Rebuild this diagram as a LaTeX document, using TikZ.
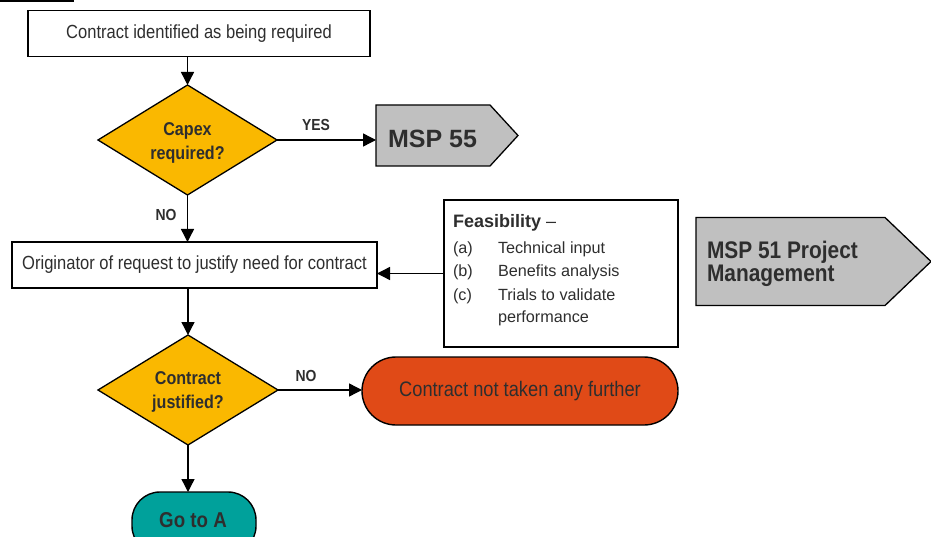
\documentclass[tikz,border=0pt]{standalone}
\usepackage{fontspec}
\setmainfont{Liberation Sans}
\newfontfamily\narrow[FakeStretch=0.87]{Liberation Sans}
\usetikzlibrary{shapes.geometric,arrows.meta}
\definecolor{txt}{HTML}{2E2E2E}
\definecolor{amber}{HTML}{FAB800}
\definecolor{redorange}{HTML}{E04A17}
\definecolor{tealc}{HTML}{00A19B}
\definecolor{greyc}{HTML}{C0C0C0}
\tikzset{
  every node/.style={text=txt, inner sep=0pt, outer sep=0pt},
  procbox/.style={draw=black, fill=white, line width=1.4pt, font=\narrow\fontsize{19}{23}\selectfont},
  decision/.style={diamond, draw=black, fill=amber, line width=1.3pt, shape aspect=1.63},
  dtext/.style={align=center, font=\narrow\bfseries\fontsize{18.5}{24}\selectfont},
  terminal/.style={draw=black, line width=1.4pt},
  conn/.style={line width=1.4pt, -{Triangle[length=13pt,width=13pt]}},
  lab/.style={font=\narrow\bfseries\fontsize{16}{18}\selectfont},
  item/.style={anchor=base west, font=\fontsize{16.2}{19}\selectfont},
}
\begin{document}
\begin{tikzpicture}[x=1pt,y=-1pt]
\clip (0,0) rectangle (931,537);
\fill[white] (0,0) rectangle (931,537);
% cropped bar at top left
\fill[black] (0,0) rectangle (74,2.5);

% first box
\node[procbox, minimum width=342pt, minimum height=46pt] (box1) at (199,33.5) {Contract identified as being required};

% decision 1
\node[decision, minimum width=179pt, minimum height=110pt] (d1) at (187.5,140) {};
\node[dtext] (d1t) at (187.5,142.5) {Capex\\required?};

% MSP 55
\filldraw[fill=greyc, draw=black, line width=1.3pt] (376,105) -- (490,105) -- (518,135.5) -- (490,166) -- (376,166) -- cycle;
\node[anchor=west, minimum height=61pt] (m55) at (376,135.5) {};
\node[anchor=base west, font=\bfseries\fontsize{25}{28}\selectfont] (m55t) at (388,148) {MSP 55};

\draw[conn] (d1.east) -- (d1.east -| m55.west);
\node[lab] (yes) at (316,125) {YES};

% second box
\node[procbox, minimum width=365pt, minimum height=46pt] (box2) at (194.5,265) {Originator of request to justify need for contract};
\draw[conn] (d1.south) -- (d1.south |- box2.north);
\draw[conn] (d1.north |- box1.south) -- (d1.north);
\node[lab] (no1) at (166,215) {NO};

% feasibility box
\node[draw=black, line width=1.3pt, minimum width=234pt, minimum height=147pt] (feas) at (561,273.5) {};
\node[anchor=base west, font=\fontsize{18}{20}\selectfont] (feast) at (453,228) {\textbf{Feasibility} –};
\node[item] (ia) at (453,253.3) {(a)};
\node[item] (ta) at (498,253.3) {Technical input};
\node[item] (ib) at (453,276.8) {(b)};
\node[item] (tb) at (498,276.8) {Benefits analysis};
\node[item] (ic) at (453,300.2) {(c)};
\node[item] (tc) at (498,300.2) {Trials to validate};
\node[item] (tc2) at (498,322.5) {performance};
\draw[conn] (feas.west) -- (feas.west -| box2.east);

% MSP 51
\filldraw[fill=greyc, draw=black, line width=1.3pt] (696,217.5) -- (885,217.5) -- (931,261.5) -- (885,305.5) -- (696,305.5) -- cycle;
\node[anchor=base west, font=\narrow\bfseries\fontsize{24}{23}\selectfont] (m51a) at (707,258.3) {MSP 51 Project};
\node[anchor=base west, font=\narrow\bfseries\fontsize{24}{23}\selectfont] (m51b) at (707,281) {Management};

% decision 2
\node[decision, minimum width=180pt, minimum height=110pt] (d2) at (188,390) {};
\node[dtext] (d2t) at (188,392) {Contract\\justified?};
\draw[conn] (box2.south -| d2.north) -- (d2.north);

% not taken further
\node[terminal, fill=redorange, rounded corners=34pt, minimum width=316pt, minimum height=68pt,
      font=\narrow\fontsize{21}{24}\selectfont] (stop) at (520,391) {Contract not taken any further};
\draw[conn] (d2.east) -- (d2.east -| stop.west);
\node[lab] (no2) at (306,376) {NO};

% go to A
\node[terminal, fill=tealc, rounded corners=28pt, minimum width=124pt, minimum height=62pt] (goa) at (194,523) {};
\node[anchor=base, font=\narrow\bfseries\fontsize{21.5}{24}\selectfont] (goat) at (193,527) {Go to A};
\draw[conn] (d2.south) -- (d2.south |- goa.north);
\end{tikzpicture}
\end{document}
